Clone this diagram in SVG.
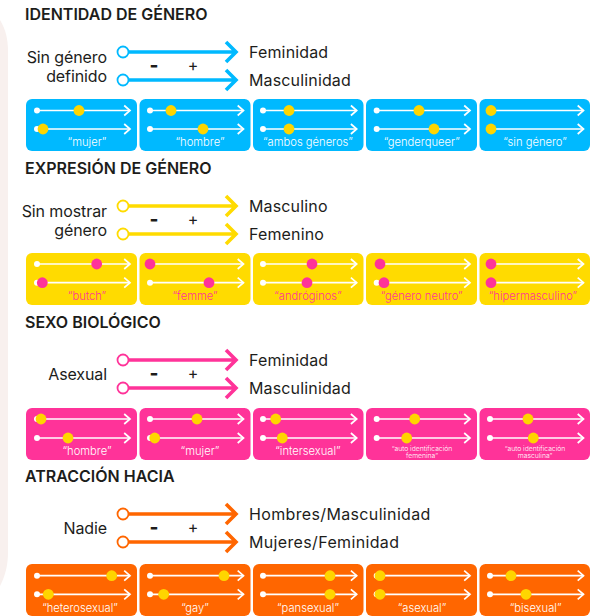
<svg xmlns="http://www.w3.org/2000/svg" width="590" height="616" viewBox="0 0 590 616">
<style>
text{font-family:"Inter","Liberation Sans",sans-serif;fill:#1d1d1b}
.h{font-size:16px;font-weight:600}
.l{font-size:16px;letter-spacing:.15px}
.ll{font-size:16px;letter-spacing:-.1px;text-anchor:end}
.w{letter-spacing:.35px}
.m{text-anchor:middle}
.b{font-weight:800;font-size:19px}
.t{font-size:11.2px;font-weight:300;fill:#fff;text-anchor:middle}
.y .t{fill:#ff3399}
.s{font-size:6.8px;font-weight:300;fill:#fff;text-anchor:middle}
.tr{stroke:#fff;stroke-width:1.7;fill:none}
.st{fill:#fff}
.blue .bg{fill:#00b9ff}.y .bg{fill:#ffdb00}.p .bg{fill:#ff3399}.o .bg{fill:#ff6600}
.blue .d,.p .d,.o .d{fill:#ffd500}.y .d{fill:#ff3399}
.leg{stroke-width:3.6;fill:none}
.c1{stroke:#00b9ff}.c2{stroke:#ffdb00}.c3{stroke:#ff3399}.c4{stroke:#ff6600}
.o0{fill:#fff;stroke-width:1.8}
</style>
<defs>
<marker id="a" markerUnits="userSpaceOnUse" markerWidth="12" markerHeight="16" refX="9.5" refY="8" orient="auto" overflow="visible"><path d="M3.7 3L9.5 8L3.7 13" fill="none" stroke="#fff" stroke-width="1.7"/></marker>
</defs>
<path d="M0 20C6 30 8 40 8 52V552C8 566 5 576 0 586Z" fill="#f8f0ee"/>

<g id="head"><text class="h" x="25" y="20">IDENTIDAD DE GÉNERO</text>
<text class="h" x="25" y="174">EXPRESIÓN DE GÉNERO</text>
<text class="h" x="25" y="328">SEXO BIOLÓGICO</text>
<text class="h" x="25" y="482">ATRACCIÓN HACIA</text></g>

<g id="connectors">
<g class="leg c1"><path d="M129 52H235M226 42L236 52L226 62M129 80H235M226 70L236 80L226 90"/><circle class="o0" cx="123" cy="52" r="5.5"/><circle class="o0" cx="123" cy="80" r="5.5"/></g>
<g class="leg c2"><path d="M129 206H235M226 196L236 206L226 216M129 234H235M226 224L236 234L226 244"/><circle class="o0" cx="123" cy="206" r="5.5"/><circle class="o0" cx="123" cy="234" r="5.5"/></g>
<g class="leg c3"><path d="M129 360H235M226 350L236 360L226 370M129 388H235M226 378L236 388L226 398"/><circle class="o0" cx="123" cy="360" r="5.5"/><circle class="o0" cx="123" cy="388" r="5.5"/></g>
<g class="leg c4"><path d="M129 514H235M226 504L236 514L226 524M129 542H235M226 532L236 542L226 552"/><circle class="o0" cx="123" cy="514" r="5.5"/><circle class="o0" cx="123" cy="542" r="5.5"/></g>
</g>

<g id="legend1"><text class="ll" x="107" y="63">Sin género</text><text class="ll" x="107" y="82">definido</text>
<text class="l" x="249" y="58">Feminidad</text><text class="l" x="249" y="86">Masculinidad</text>
<text class="l m b" x="154" y="72">-</text><text class="l m" x="193" y="71">+</text></g>
<g id="legend2"><text class="ll" x="107" y="217">Sin mostrar</text><text class="ll" x="107" y="236">género</text>
<text class="l" x="249" y="212">Masculino</text><text class="l" x="249" y="240">Femenino</text>
<text class="l m b" x="154" y="226">-</text><text class="l m" x="193" y="225">+</text></g>
<g id="legend3"><text class="ll" x="107" y="380">Asexual</text>
<text class="l" x="249" y="366">Feminidad</text><text class="l" x="249" y="394">Masculinidad</text>
<text class="l m b" x="154" y="380">-</text><text class="l m" x="193" y="379">+</text></g>
<g id="legend4"><text class="ll" x="107" y="534">Nadie</text>
<text class="l w" x="249" y="520">Hombres/Masculinidad</text><text class="l w" x="249" y="548">Mujeres/Feminidad</text>
<text class="l m b" x="154" y="534">-</text><text class="l m" x="193" y="533">+</text></g>

<g class="blue" id="row1">
<g id="r1c1"><rect class="bg" x="26" y="99" width="111" height="52" rx="6"/><path class="tr" d="M37 110.5H130" marker-end="url(#a)"/><path class="tr" d="M37 129H130" marker-end="url(#a)"/><circle class="st" cx="37" cy="110.5" r="3"/><circle class="st" cx="37" cy="129" r="3"/><circle class="d" cx="79" cy="110.5" r="5.4"/><circle class="d" cx="43" cy="129" r="5.4"/><text class="t" x="87" y="146">“mujer”</text></g>
<g id="r1c2"><rect class="bg" x="139.5" y="99" width="111" height="52" rx="6"/><path class="tr" d="M150 110.5H243.5" marker-end="url(#a)"/><path class="tr" d="M150 129H243.5" marker-end="url(#a)"/><circle class="st" cx="150" cy="110.5" r="3"/><circle class="st" cx="150" cy="129" r="3"/><circle class="d" cx="171" cy="110.5" r="5.4"/><circle class="d" cx="203" cy="129" r="5.4"/><text class="t" x="200" y="146">“hombre”</text></g>
<g id="r1c3"><rect class="bg" x="253" y="99" width="110.5" height="52" rx="6"/><path class="tr" d="M263 110.5H356.7" marker-end="url(#a)"/><path class="tr" d="M263 129H356.7" marker-end="url(#a)"/><circle class="st" cx="263" cy="110.5" r="3"/><circle class="st" cx="263" cy="129" r="3"/><circle class="d" cx="289" cy="110.5" r="5.4"/><circle class="d" cx="289" cy="129" r="5.4"/><text class="t" x="308" y="146">“ambos géneros”</text></g>
<g id="r1c4"><rect class="bg" x="366" y="99" width="111" height="52" rx="6"/><path class="tr" d="M376.7 110.5H470" marker-end="url(#a)"/><path class="tr" d="M376.7 129H470" marker-end="url(#a)"/><circle class="st" cx="376.7" cy="110.5" r="3"/><circle class="st" cx="376.7" cy="129" r="3"/><circle class="d" cx="419" cy="110.5" r="5.4"/><circle class="d" cx="434" cy="129" r="5.4"/><text class="t" x="421.7" y="146">“genderqueer”</text></g>
<g id="r1c5"><rect class="bg" x="479.5" y="99" width="110.5" height="52" rx="6"/><path class="tr" d="M490 110.5H583.5" marker-end="url(#a)"/><path class="tr" d="M490 129H583.5" marker-end="url(#a)"/><circle class="d" cx="491" cy="110.5" r="5.4"/><circle class="d" cx="491" cy="129" r="5.4"/><text class="t" x="535" y="146">“sin género”</text></g>
</g>

<g class="y" id="row2">
<g id="r2c1"><rect class="bg" x="26" y="253" width="111" height="52" rx="6"/><path class="tr" d="M37 264H130" marker-end="url(#a)"/><path class="tr" d="M37 282.7H130" marker-end="url(#a)"/><circle class="st" cx="37" cy="264" r="3"/><circle class="st" cx="37" cy="282.7" r="3"/><circle class="d" cx="96.7" cy="264" r="5.4"/><circle class="d" cx="42.3" cy="282.7" r="5.4"/><text class="t" x="87" y="299.5">“butch”</text></g>
<g id="r2c2"><rect class="bg" x="139.5" y="253" width="111" height="52" rx="6"/><path class="tr" d="M150 264H243.5" marker-end="url(#a)"/><path class="tr" d="M150 282.7H243.5" marker-end="url(#a)"/><circle class="st" cx="150" cy="282.7" r="3"/><circle class="d" cx="150" cy="264" r="5.4"/><circle class="d" cx="209" cy="282.7" r="5.4"/><text class="t" x="195" y="299.5">“femme”</text></g>
<g id="r2c3"><rect class="bg" x="253" y="253" width="110.5" height="52" rx="6"/><path class="tr" d="M263 264H356.7" marker-end="url(#a)"/><path class="tr" d="M263 282.7H356.7" marker-end="url(#a)"/><circle class="st" cx="263" cy="264" r="3"/><circle class="st" cx="263" cy="282.7" r="3"/><circle class="d" cx="312" cy="264" r="5.4"/><circle class="d" cx="307" cy="282.7" r="5.4"/><text class="t" x="308" y="299.5">“andróginos”</text></g>
<g id="r2c4"><rect class="bg" x="366" y="253" width="111" height="52" rx="6"/><path class="tr" d="M376.7 264H470" marker-end="url(#a)"/><path class="tr" d="M376.7 282.7H470" marker-end="url(#a)"/><circle class="st" cx="376.7" cy="282.7" r="3"/><circle class="d" cx="380" cy="264" r="5.4"/><circle class="d" cx="384" cy="282.7" r="5.4"/><text class="t" x="421.7" y="299.5">“género neutro”</text></g>
<g id="r2c5"><rect class="bg" x="479.5" y="253" width="110.5" height="52" rx="6"/><path class="tr" d="M490 264H583.5" marker-end="url(#a)"/><path class="tr" d="M490 282.7H583.5" marker-end="url(#a)"/><circle class="d" cx="491" cy="264" r="5.4"/><circle class="d" cx="491" cy="282.7" r="5.4"/><text class="t" x="533" y="299.5">“hipermasculino”</text></g>
</g>

<g class="p" id="row3">
<g id="r3c1"><rect class="bg" x="26" y="408" width="111" height="52" rx="6"/><path class="tr" d="M37 419H130" marker-end="url(#a)"/><path class="tr" d="M37 438H130" marker-end="url(#a)"/><circle class="st" cx="37" cy="419" r="3"/><circle class="st" cx="37" cy="438" r="3"/><circle class="d" cx="41" cy="419" r="5.4"/><circle class="d" cx="68" cy="438" r="5.4"/><text class="t" x="87" y="454.5">“hombre”</text></g>
<g id="r3c2"><rect class="bg" x="139.5" y="408" width="111" height="52" rx="6"/><path class="tr" d="M150 419H243.5" marker-end="url(#a)"/><path class="tr" d="M150 438H243.5" marker-end="url(#a)"/><circle class="st" cx="150" cy="419" r="3"/><circle class="st" cx="150" cy="438" r="3"/><circle class="d" cx="197" cy="419" r="5.4"/><circle class="d" cx="154.7" cy="438" r="5.4"/><text class="t" x="200" y="454.5">“mujer”</text></g>
<g id="r3c3"><rect class="bg" x="253" y="408" width="110.5" height="52" rx="6"/><path class="tr" d="M263 419H356.7" marker-end="url(#a)"/><path class="tr" d="M263 438H356.7" marker-end="url(#a)"/><circle class="st" cx="263" cy="419" r="3"/><circle class="st" cx="263" cy="438" r="3"/><circle class="d" cx="275.7" cy="419" r="5.4"/><circle class="d" cx="282.3" cy="438" r="5.4"/><text class="t" x="308" y="454.5">“intersexual”</text></g>
<g id="r3c4"><rect class="bg" x="366" y="408" width="111" height="52" rx="6"/><path class="tr" d="M376.7 419H470" marker-end="url(#a)"/><path class="tr" d="M376.7 438H470" marker-end="url(#a)"/><circle class="st" cx="376.7" cy="419" r="3"/><circle class="st" cx="376.7" cy="438" r="3"/><circle class="d" cx="414.7" cy="419" r="5.4"/><circle class="d" cx="406.7" cy="438" r="5.4"/><text class="s" x="422" y="450.5">“auto identificación</text><text class="s" x="422" y="458">femenina”</text></g>
<g id="r3c5"><rect class="bg" x="479.5" y="408" width="110.5" height="52" rx="6"/><path class="tr" d="M490 419H583.5" marker-end="url(#a)"/><path class="tr" d="M490 438H583.5" marker-end="url(#a)"/><circle class="st" cx="490" cy="419" r="3"/><circle class="st" cx="490" cy="438" r="3"/><circle class="d" cx="528" cy="419" r="5.4"/><circle class="d" cx="533.3" cy="438" r="5.4"/><text class="s" x="535" y="450.5">“auto identificación</text><text class="s" x="535" y="458">masculina”</text></g>
</g>

<g class="o" id="row4">
<g id="r4c1"><rect class="bg" x="26" y="564" width="111" height="52" rx="6"/><path class="tr" d="M37 575.7H130" marker-end="url(#a)"/><path class="tr" d="M37 594.3H130" marker-end="url(#a)"/><circle class="st" cx="37" cy="575.7" r="3"/><circle class="st" cx="37" cy="594.3" r="3"/><circle class="d" cx="111.7" cy="575.7" r="5.4"/><circle class="d" cx="48.3" cy="594.3" r="5.4"/><text class="t" x="80" y="611.5">“heterosexual”</text></g>
<g id="r4c2"><rect class="bg" x="139.5" y="564" width="111" height="52" rx="6"/><path class="tr" d="M150 575.7H243.5" marker-end="url(#a)"/><path class="tr" d="M150 594.3H243.5" marker-end="url(#a)"/><circle class="st" cx="150" cy="575.7" r="3"/><circle class="st" cx="150" cy="594.3" r="3"/><circle class="d" cx="224" cy="575.7" r="5.4"/><circle class="d" cx="163.7" cy="594.3" r="5.4"/><text class="t" x="195" y="611.5">“gay”</text></g>
<g id="r4c3"><rect class="bg" x="253" y="564" width="110.5" height="52" rx="6"/><path class="tr" d="M263 575.7H356.7" marker-end="url(#a)"/><path class="tr" d="M263 594.3H356.7" marker-end="url(#a)"/><circle class="st" cx="263" cy="575.7" r="3"/><circle class="st" cx="263" cy="594.3" r="3"/><circle class="d" cx="330" cy="575.7" r="5.4"/><circle class="d" cx="330" cy="594.3" r="5.4"/><text class="t" x="308" y="611.5">“pansexual”</text></g>
<g id="r4c4"><rect class="bg" x="366" y="564" width="111" height="52" rx="6"/><path class="tr" d="M376.7 575.7H470" marker-end="url(#a)"/><path class="tr" d="M376.7 594.3H470" marker-end="url(#a)"/><circle class="st" cx="376.7" cy="575.7" r="3"/><circle class="st" cx="376.7" cy="594.3" r="3"/><circle class="d" cx="380" cy="575.7" r="5.4"/><circle class="d" cx="380" cy="594.3" r="5.4"/><text class="t" x="422" y="611.5">“asexual”</text></g>
<g id="r4c5"><rect class="bg" x="479.5" y="564" width="110.5" height="52" rx="6"/><path class="tr" d="M490 575.7H583.5" marker-end="url(#a)"/><path class="tr" d="M490 594.3H583.5" marker-end="url(#a)"/><circle class="st" cx="490" cy="575.7" r="3"/><circle class="st" cx="490" cy="594.3" r="3"/><circle class="d" cx="511" cy="575.7" r="5.4"/><circle class="d" cx="526" cy="594.3" r="5.4"/><text class="t" x="535.6" y="611.5">“bisexual”</text></g>
</g>
</svg>
